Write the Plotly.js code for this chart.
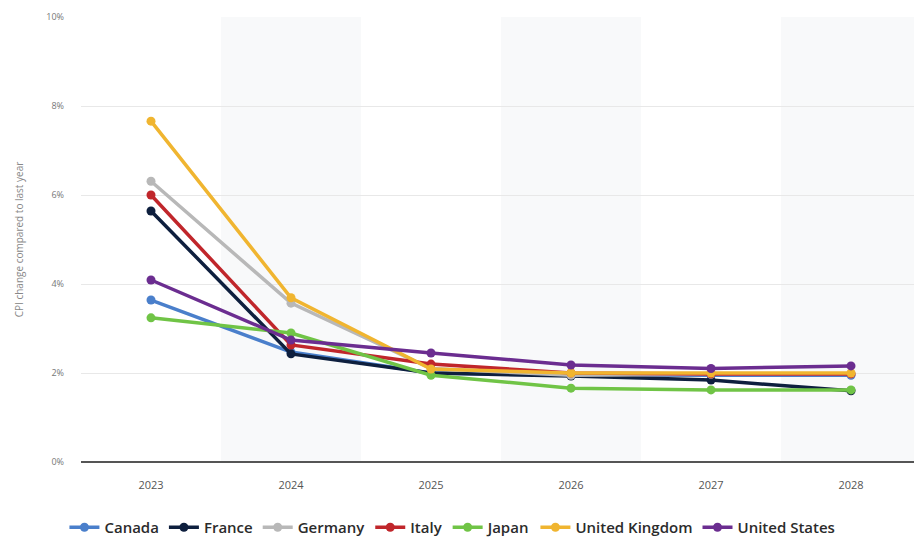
<!DOCTYPE html>
<html>
<head>
<meta charset="utf-8">
<script src="https://cdn.plot.ly/plotly-3.0.1.min.js"></script>
<style>
  html, body { margin: 0; padding: 0; background: #ffffff; }
  #chart { width: 914px; height: 544px; }
</style>
</head>
<body>
<div id="chart"></div>
<script>
// Consumer price inflation, change compared to previous year (%)
const years = ['2023', '2024', '2025', '2026', '2027', '2028'];

const canada        = [3.64, 2.47, 2.0, 1.95, 1.95, 1.95];
const france        = [5.64, 2.43, 2.0, 1.93, 1.84, 1.6];
const germany       = [6.31, 3.57, 2.1, 1.95, 1.97, 1.98];
const italy         = [6.0, 2.63, 2.2, 2.0, 1.98, 1.98];
const japan         = [3.24, 2.9, 1.95, 1.66, 1.62, 1.62];
const unitedKingdom = [7.66, 3.69, 2.09, 2.0, 2.0, 2.0];
const unitedStates  = [4.09, 2.74, 2.45, 2.18, 2.1, 2.16];

const seriesNames = ['Canada', 'France', 'Germany', 'Italy', 'Japan', 'United Kingdom', 'United States'];
const seriesValues = [canada, france, germany, italy, japan, unitedKingdom, unitedStates];
const seriesColors = ['#4a7fcb', '#0e1f3e', '#b8b8b8', '#c0262b', '#70c446', '#f0b530', '#6b2d90'];

const yTicks = [0, 2, 4, 6, 8, 10];
const yTickText = ['0%', '2%', '4%', '6%', '8%', '10%'];

const traces = seriesNames.map((name, i) => ({
  type: 'scatter',
  mode: 'lines+markers',
  name: name,
  x: years,
  y: seriesValues[i],
  line: { color: seriesColors[i], width: 3.5 },
  marker: { color: seriesColors[i], size: 9 },
  hoverinfo: 'x+y+name'
}));

// alternating shaded category bands
const bands = [1, 3, 5].map(c => ({
  type: 'rect', xref: 'x', yref: 'paper', layer: 'below',
  x0: c - 0.5, x1: c + 0.5, y0: 0, y1: 1,
  fillcolor: '#f8f9fa', line: { width: 0 }
}));

const layout = {
  width: 914,
  height: 544,
  margin: { l: 81, r: 0, t: 17, b: 82 },
  paper_bgcolor: '#ffffff',
  plot_bgcolor: '#ffffff',
  font: { family: 'Open Sans, sans-serif', color: '#555' },
  showlegend: true,
  legend: {
    orientation: 'h',
    xref: 'container', yref: 'container',
    x: 0.495, xanchor: 'center',
    y: -0.016, yanchor: 'bottom',
    font: { family: 'Open Sans, sans-serif', size: 15, color: '#2b2b2b', weight: 600 },
    itemwidth: 30,
    tracegroupgap: 0
  },
  xaxis: {
    type: 'category',
    range: [-0.5, 5.45],
    automargin: false,
    showgrid: false,
    zeroline: false,
    showline: false,
    ticks: '',
    ticklabelstandoff: 15,
    tickfont: { size: 11, color: '#555' },
    fixedrange: true
  },
  yaxis: {
    range: [0, 10],
    automargin: false,
    tickvals: yTicks,
    ticktext: yTickText,
    showgrid: true,
    gridcolor: '#e8e8e8',
    gridwidth: 1,
    zeroline: true,
    zerolinecolor: '#555555',
    zerolinewidth: 2,
    showline: false,
    ticks: '',
    ticklabelstandoff: 16,
    tickfont: { size: 9, color: '#777' },
    title: { text: 'CPI change compared to last year', font: { size: 10, color: '#888' }, standoff: 20 },
    fixedrange: true
  },
  shapes: bands
};

Plotly.newPlot('chart', traces, layout, { displayModeBar: false, staticPlot: true });
</script>
</body>
</html>
